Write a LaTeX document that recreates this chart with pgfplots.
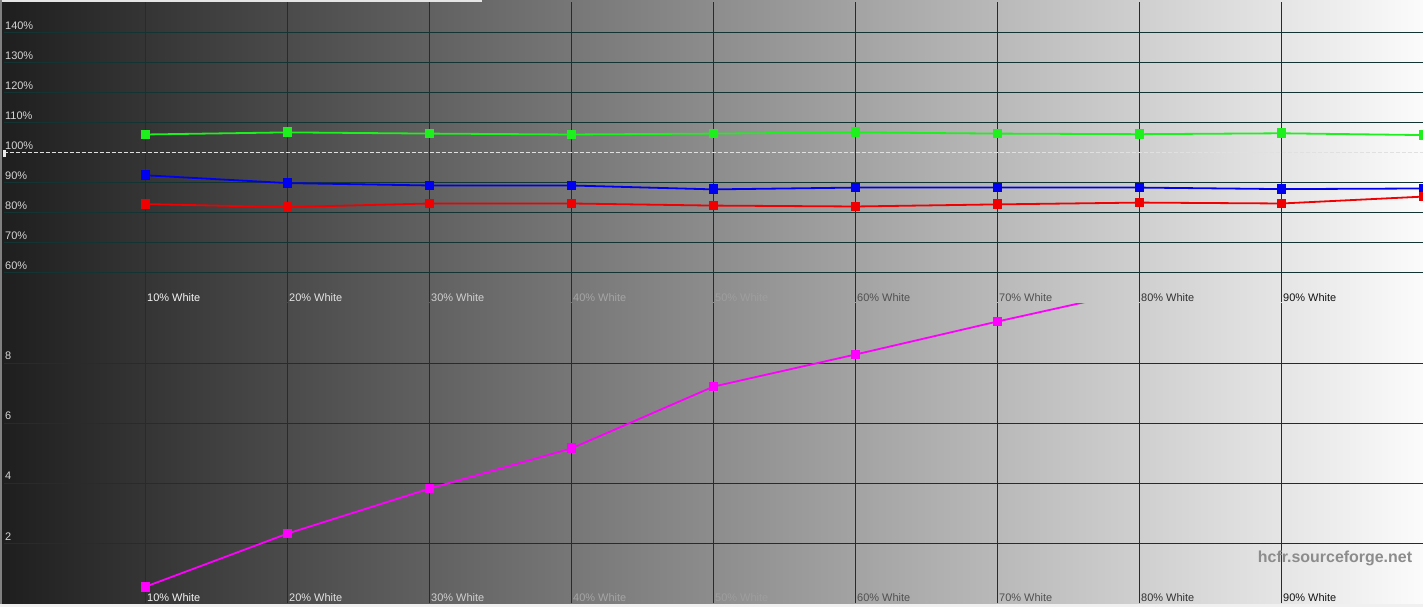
\documentclass[border=0pt]{standalone}
\usepackage{fontspec}
\setmainfont{Liberation Sans}
\usepackage{pgfplots}
\pgfplotsset{compat=1.18}
\definecolor{gridc}{RGB}{20,52,52}
\definecolor{cgreen}{RGB}{30,240,30}
\definecolor{cblue}{RGB}{0,0,240}
\definecolor{cred}{RGB}{240,0,0}
\definecolor{cmag}{RGB}{255,0,255}
\definecolor{ylab}{RGB}{215,215,215}
\definecolor{wm}{RGB}{140,140,140}
\pgfplotsset{panel/.style={scale only axis, width=1420bp, height=300bp,
  xmin=0, xmax=100, axis line style={draw=none}, major tick length=0pt,
  xtick={10,20,...,90}, xticklabels={}, yticklabels={},
  grid=major, major grid style={gridc, line width=1bp}}}
\begin{document}
\begin{tikzpicture}[x=1bp,y=1bp]
\useasboundingbox (0,0) rectangle (1423,607);
\shade[left color={rgb,255:red,30;green,30;blue,30}, right color={rgb,255:red,251;green,251;blue,251}] (0,0) rectangle (1423,607);
\begin{axis}[panel, at={(3.5bp,304.5bp)}, anchor=south west, ymin=50, ymax=150,
  ytick={60,70,80,90,110,120,130,140}]
\addplot[cgreen, line width=1.8bp, mark=square*, mark size=4bp] coordinates {(10,106)(20,106.7)(30,106.3)(40,106)(50,106.3)(60,106.7)(70,106.3)(80,106.1)(90,106.4)(100,105.8)};
\addplot[cblue, line width=1.8bp, mark=square*, mark size=4bp] coordinates {(10,92.4)(20,89.8)(30,89)(40,89)(50,87.7)(60,88.3)(70,88.3)(80,88.3)(90,87.8)(100,88)};
\addplot[cred, line width=1.8bp, mark=square*, mark size=4bp] coordinates {(10,82.8)(20,81.8)(30,83)(40,83)(50,82.3)(60,82)(70,82.7)(80,83.3)(90,83)(100,85.3)};
\draw[dash pattern=on 4bp off 2bp, line width=1bp, color=white!88!black] (axis cs:0,100) -- (axis cs:100,100);
\end{axis}
\begin{axis}[panel, at={(3.5bp,3.5bp)}, anchor=south west, ymin=0, ymax=10,
  ytick={2,4,6,8}]
\addplot[cmag, line width=1.8bp, mark=square*, mark size=4bp] coordinates {(10,0.56)(20,2.33)(30,3.83)(40,5.17)(50,7.23)(60,8.3)(70,9.4)(80,10.45)};
\end{axis}
% borders
\fill[white!90!black] (0,604.5) rectangle (482,607);
\fill[white!50!black] (0,0) rectangle (1.5,607);
\fill[white!94!black] (0,0) rectangle (1423,2.5);
\fill[white!92!black] (2.5,450) rectangle (6,457);
% y labels
\foreach \v/\yy in {140\%/577,130\%/547,120\%/517,110\%/487,100\%/457,90\%/427,80\%/397,70\%/367,60\%/337,8/247,6/187,4/127,2/66}
  \node[anchor=base west, inner sep=0, text=ylab, font=\fontsize{11}{13}\selectfont] at (5,\yy) {\v};
% x labels
\foreach \i/\c in {1/{rgb,255:red,245;green,245;blue,245},2/{rgb,255:red,228;green,228;blue,228},3/{rgb,255:red,208;green,208;blue,208},4/{rgb,255:red,165;green,165;blue,165},5/{rgb,255:red,158;green,158;blue,158},6/{rgb,255:red,80;green,80;blue,80},7/{rgb,255:red,80;green,80;blue,80},8/{rgb,255:red,50;green,50;blue,50},9/{rgb,255:red,20;green,20;blue,20}} {
  \pgfmathsetmacro{\xx}{147+142*(\i-1)}
  \node[anchor=base west, inner sep=0, text=\c, font=\fontsize{11}{13}\selectfont] at (\xx,305) {\i0\% White};
  \node[anchor=base west, inner sep=0, text=\c, font=\fontsize{11}{13}\selectfont] at (\xx,5) {\i0\% White};
}
\node[anchor=base, inner sep=0, text=wm, font=\fontsize{16}{19}\selectfont\bfseries] at (1335,44) {hcfr.sourceforge.net};
\end{tikzpicture}
\end{document}
